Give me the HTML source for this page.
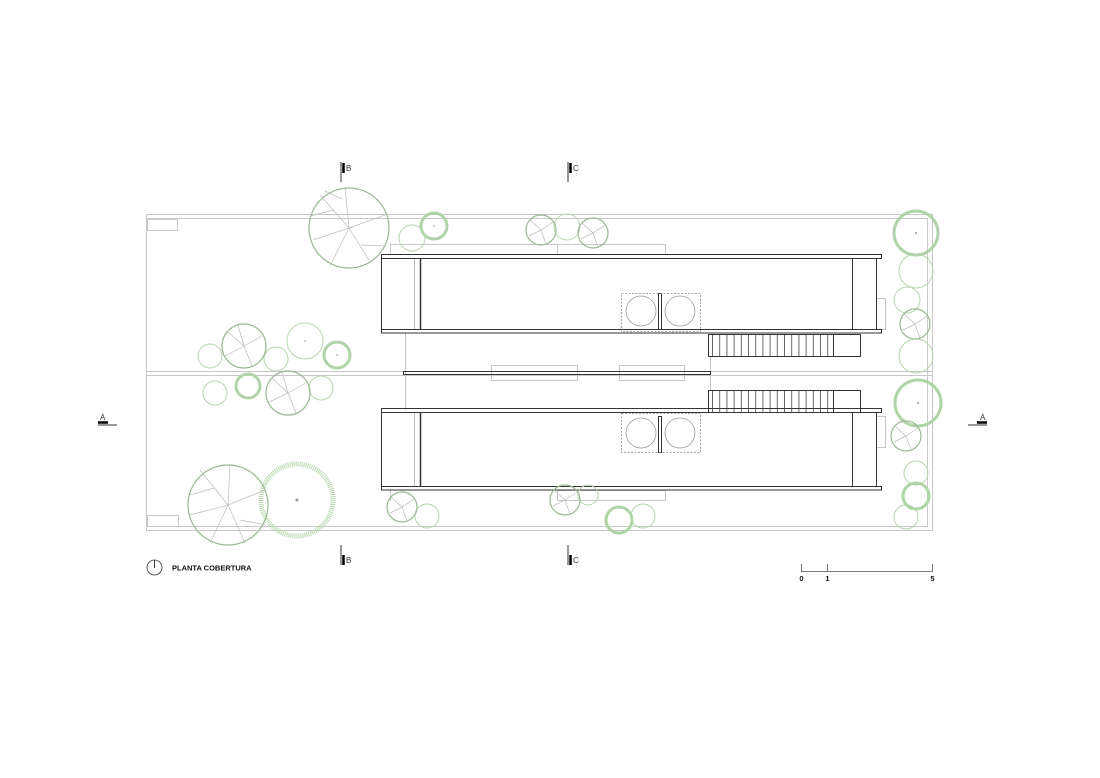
<!DOCTYPE html>
<html><head><meta charset="utf-8"><style>
html,body{margin:0;padding:0;background:#fff;}
svg{display:block;font-family:"Liberation Sans",sans-serif;}
</style></head><body>
<svg width="1100" height="778" viewBox="0 0 1100 778" xmlns="http://www.w3.org/2000/svg">
<defs>
<pattern id="tr" x="712" y="0" width="7.2" height="10" patternUnits="userSpaceOnUse">
<line x1="0.5" y1="0" x2="0.5" y2="10" stroke="#444" stroke-width="0.8"/>
</pattern>
</defs>
<rect width="1100" height="778" fill="#fff"/>
<!-- site outline -->
<g fill="none" stroke="#c8c8c8" stroke-width="1">
<rect x="146.5" y="214.5" width="786" height="316"/>
<line x1="146" y1="218.5" x2="928" y2="218.5"/>
<line x1="146" y1="526.5" x2="928" y2="526.5"/>
<line x1="927.5" y1="218" x2="927.5" y2="527"/>
<line x1="146" y1="371.5" x2="932" y2="371.5"/>
<line x1="146" y1="375.5" x2="932" y2="375.5"/>
<rect x="147.5" y="219.5" width="30" height="11"/>
<rect x="147.5" y="515.5" width="31" height="11"/>
<line x1="390.5" y1="244.5" x2="390.5" y2="254"/>
<line x1="390" y1="244.5" x2="557" y2="244.5"/>
<rect x="557.5" y="244.5" width="108" height="10"/>
<line x1="390.5" y1="490" x2="390.5" y2="501"/>
<rect x="557.5" y="490.5" width="108" height="10"/>
<line x1="405.5" y1="333" x2="405.5" y2="410"/>
<rect x="491.5" y="365.5" width="86" height="15"/>
<rect x="619.5" y="365.5" width="65" height="15"/>
<rect x="876.5" y="298.5" width="9" height="31"/>
<rect x="876.5" y="416.5" width="9" height="31"/>
<line x1="710.5" y1="356" x2="710.5" y2="390"/>
</g>
<!-- buildings -->
<g fill="none" stroke="#333" stroke-width="1">
<rect x="381.5" y="254.5" width="500" height="4"/>
<rect x="381.5" y="258.5" width="471" height="71"/>
<line x1="414.5" y1="259" x2="414.5" y2="329" stroke="#bbb"/>
<line x1="420.5" y1="259" x2="420.5" y2="329" stroke-width="1.5"/>
<line x1="876.5" y1="259" x2="876.5" y2="329"/>
<rect x="381.5" y="329.5" width="500" height="3.5"/>
<rect x="381.5" y="408.5" width="500" height="4"/>
<rect x="381.5" y="412.5" width="471" height="74"/>
<line x1="414.5" y1="413" x2="414.5" y2="486" stroke="#bbb"/>
<line x1="420.5" y1="413" x2="420.5" y2="486" stroke-width="1.5"/>
<line x1="876.5" y1="413" x2="876.5" y2="486"/>
<rect x="381.5" y="486.5" width="500" height="3.5"/>
<rect x="403.5" y="371.5" width="307" height="3" stroke-width="1"/>
<!-- stairs -->
<rect x="708.5" y="334.5" width="152" height="22"/>
<rect x="712" y="335" width="121" height="21" fill="url(#tr)" stroke="none"/>
<line x1="833.5" y1="334" x2="833.5" y2="356"/>
<rect x="708.5" y="390.5" width="152" height="22"/>
<rect x="712" y="391" width="121" height="21" fill="url(#tr)" stroke="none"/>
<line x1="833.5" y1="390" x2="833.5" y2="412"/>
<!-- dividers -->
<rect x="658.5" y="293.5" width="3" height="36"/>
<rect x="658.5" y="416.5" width="3" height="36"/>
</g>
<g fill="none" stroke="#888" stroke-width="0.8" stroke-dasharray="2,1.5">
<rect x="621.5" y="293.5" width="79" height="38"/>
<rect x="621.5" y="413.5" width="79" height="39"/>
</g>
<g fill="none" stroke="#999" stroke-width="0.8">
<circle cx="641" cy="311" r="15"/><circle cx="680" cy="311" r="15"/>
<circle cx="641" cy="433" r="15"/><circle cx="680" cy="433" r="15"/>
</g>
<!-- trees light -->
<g fill="none" stroke="#b8d4b0" stroke-width="1">
<circle cx="412" cy="238" r="13"/><circle cx="567" cy="227" r="13"/>
<circle cx="916" cy="271" r="17"/><circle cx="907" cy="300" r="13"/><circle cx="916" cy="356" r="17"/>
<circle cx="210" cy="356" r="12"/><circle cx="276" cy="359" r="12"/><circle cx="305" cy="341" r="18"/>
<circle cx="215" cy="393" r="12"/><circle cx="321" cy="388" r="12"/>
<circle cx="916" cy="473" r="12"/><circle cx="906" cy="517" r="12"/>
<circle cx="427" cy="516" r="12"/><circle cx="588" cy="495" r="10"/><circle cx="643" cy="516" r="12"/>
</g>
<g fill="none" stroke="#b0d4a8" stroke-width="3">
<circle cx="434" cy="226" r="13"/><circle cx="916" cy="233" r="22"/><circle cx="337" cy="355" r="13"/>
<circle cx="248" cy="386" r="12"/><circle cx="918" cy="403" r="23"/><circle cx="916" cy="496" r="13"/>
<circle cx="619" cy="520" r="13"/>
</g>
<circle cx="297" cy="500" r="36" fill="none" stroke="#b8d8b0" stroke-width="5" stroke-dasharray="1,1"/>
<!-- branched trees -->
<g fill="none" stroke="#9ab894" stroke-width="1.2">
<circle cx="349" cy="228" r="40"/><circle cx="228" cy="505" r="40"/>
<circle cx="244" cy="346" r="22"/><circle cx="288" cy="393" r="22"/>
<circle cx="541" cy="230" r="15"/><circle cx="593" cy="233" r="15"/>
<circle cx="915" cy="324" r="15"/><circle cx="906" cy="436" r="15"/>
<circle cx="402" cy="507" r="15"/><circle cx="565" cy="500" r="15"/>
</g>
<g stroke="#bbb" stroke-width="0.7" fill="none">
<path d="M349 228 L320 195 M349 228 L385 215 M349 228 L370 262 M349 228 L313 240 M349 228 L345 188 M349 228 L330 266 M334 210 L310 216 M361 245 L386 246 M342 199 L325 191"/>
<path d="M228 505 L200 470 M228 505 L265 490 M228 505 L245 543 M228 505 L190 515 M228 505 L230 465 M228 505 L210 543 M214 488 L190 495 M240 520 L266 525"/>
<path d="M244 346 L228 332 M244 346 L262 336 M244 346 L252 366 M244 346 L225 356 M244 346 L238 325"/>
<path d="M288 393 L272 378 M288 393 L306 383 M288 393 L296 413 M288 393 L269 402 M288 393 L282 372"/>
<path d="M541 230 L530 220 M541 230 L553 222 M541 230 L546 244 M541 230 L529 236"/>
<path d="M593 233 L582 223 M593 233 L605 225 M593 233 L598 247 M593 233 L581 239"/>
<path d="M915 324 L904 314 M915 324 L927 316 M915 324 L920 338 M915 324 L903 330"/>
<path d="M906 436 L895 426 M906 436 L918 428 M906 436 L911 450 M906 436 L894 442"/>
<path d="M402 507 L391 497 M402 507 L414 499 M402 507 L407 521 M402 507 L390 513"/>
<path d="M565 500 L554 490 M565 500 L577 492 M565 500 L570 514 M565 500 L553 506"/>
</g>
<g fill="#999">
<circle cx="297" cy="500" r="1.5"/><circle cx="916" cy="233" r="1"/><circle cx="918" cy="403" r="1"/>
<circle cx="434" cy="226" r="0.8"/><circle cx="337" cy="355" r="0.8"/><circle cx="305" cy="341" r="0.8"/>
</g>
<!-- section marks -->
<g stroke="#333" fill="none">
<line x1="341" y1="162" x2="341" y2="182" stroke-width="1"/>
<line x1="343.5" y1="163" x2="343.5" y2="173" stroke-width="2.5" stroke="#000"/>
<line x1="568" y1="162" x2="568" y2="182"/>
<line x1="570.5" y1="163" x2="570.5" y2="173" stroke-width="2.5" stroke="#000"/>
<line x1="341" y1="545" x2="341" y2="565"/>
<line x1="343.5" y1="555" x2="343.5" y2="565" stroke-width="2.5" stroke="#000"/>
<line x1="568" y1="545" x2="568" y2="565"/>
<line x1="570.5" y1="555" x2="570.5" y2="565" stroke-width="2.5" stroke="#000"/>
<line x1="98" y1="425" x2="117" y2="425"/>
<line x1="98" y1="422.5" x2="108" y2="422.5" stroke-width="2.5" stroke="#000"/>
<line x1="968" y1="425" x2="987" y2="425"/>
<line x1="977" y1="422.5" x2="987" y2="422.5" stroke-width="2.5" stroke="#000"/>
</g>
<g font-size="8" fill="#333">
<text x="346" y="171">B</text><text x="573" y="171">C</text>
<text x="346" y="563">B</text><text x="573" y="563">C</text>
<text x="100" y="420">A</text><text x="980" y="420">A</text>
</g>
<!-- legend -->
<circle cx="154.5" cy="567.5" r="7.5" fill="none" stroke="#333" stroke-width="0.8"/>
<line x1="154.5" y1="560" x2="154.5" y2="568" stroke="#333" stroke-width="1"/>
<text x="172" y="570.5" font-size="7.5" font-weight="bold" fill="#111">PLANTA COBERTURA</text>
<g stroke="#555" stroke-width="0.8">
<line x1="801" y1="571.5" x2="932" y2="571.5"/>
<line x1="801.5" y1="564" x2="801.5" y2="572"/>
<line x1="827.5" y1="564" x2="827.5" y2="572"/>
<line x1="932.5" y1="564" x2="932.5" y2="572"/>
</g>
<g font-size="7.5" font-weight="bold" fill="#111" text-anchor="middle">
<text x="801.5" y="581">0</text><text x="827.5" y="581">1</text><text x="932.5" y="581">5</text>
</g>
</svg>
</body></html>
